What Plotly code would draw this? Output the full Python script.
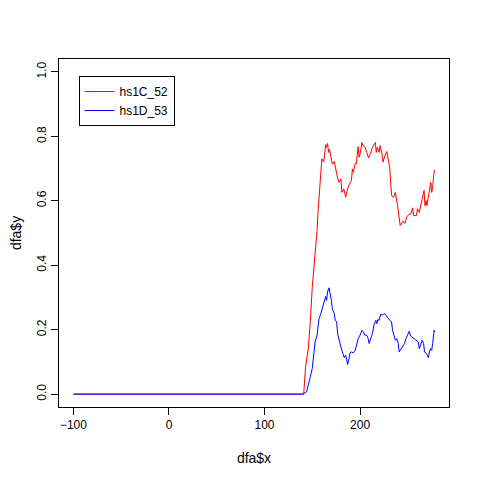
import plotly.graph_objects as go

red_name = "hs1C_52"
red_x = [-100, 141, 143, 146, 148, 150, 155, 156, 160, 162, 164, 165, 166, 167, 168, 169, 171, 173, 175, 176, 178, 180, 181, 183, 185, 187, 189, 191, 192, 193, 195, 196, 198, 199, 200, 202, 203, 205, 207, 209, 211, 213, 215, 216, 217, 218, 220, 221, 223, 224, 226, 228, 230, 231, 233, 235, 237, 238, 239, 240, 242, 244, 245, 247, 249, 251, 253, 255, 256, 259, 260, 262, 264, 266, 267, 268, 269, 270, 272, 274, 275, 276, 277, 278]
red_y = [0, 0, 0.085, 0.146, 0.229, 0.332, 0.508, 0.564, 0.73, 0.72, 0.774, 0.766, 0.778, 0.75, 0.76, 0.745, 0.714, 0.722, 0.688, 0.678, 0.657, 0.668, 0.626, 0.637, 0.611, 0.637, 0.652, 0.663, 0.699, 0.688, 0.716, 0.714, 0.768, 0.735, 0.745, 0.781, 0.771, 0.768, 0.75, 0.733, 0.747, 0.766, 0.776, 0.781, 0.75, 0.766, 0.75, 0.771, 0.745, 0.72, 0.74, 0.753, 0.72, 0.704, 0.616, 0.611, 0.626, 0.601, 0.585, 0.57, 0.523, 0.53, 0.537, 0.53, 0.551, 0.557, 0.559, 0.578, 0.554, 0.554, 0.575, 0.564, 0.595, 0.616, 0.632, 0.585, 0.601, 0.585, 0.616, 0.657, 0.626, 0.642, 0.678, 0.696]

blue_name = "hs1D_53"
blue_x = [-100, 140, 144, 146, 148, 150, 151, 153, 155, 156, 157, 159, 161, 163, 164, 165, 166, 167.5, 168.5, 170, 171, 173, 174, 175.5, 176.5, 178, 180, 182, 183.5, 185, 186, 187, 188.5, 189.5, 191, 193, 195, 196.5, 198, 200, 202, 203.5, 205, 207, 208.5, 209.5, 211.5, 213, 214.5, 216.5, 217.5, 218.5, 220, 221.5, 223.5, 225, 226.5, 228, 229.5, 231.5, 233, 234, 235.5, 237, 238.5, 240, 241, 243, 244.5, 246.5, 248, 249.5, 251.5, 253, 254.5, 256, 257.5, 259.5, 261, 262, 263.5, 265, 266.5, 267.5, 269, 270.5, 271.5, 272.5, 274, 275, 276, 277.5, 278.5]
blue_y = [0, 0, 0.007, 0.028, 0.054, 0.08, 0.116, 0.162, 0.183, 0.203, 0.234, 0.25, 0.27, 0.291, 0.303, 0.291, 0.317, 0.33, 0.317, 0.291, 0.265, 0.25, 0.229, 0.224, 0.188, 0.167, 0.146, 0.126, 0.113, 0.121, 0.11, 0.092, 0.11, 0.128, 0.131, 0.128, 0.136, 0.152, 0.172, 0.183, 0.198, 0.193, 0.183, 0.183, 0.172, 0.157, 0.172, 0.188, 0.214, 0.229, 0.219, 0.231, 0.229, 0.248, 0.245, 0.25, 0.248, 0.239, 0.234, 0.229, 0.224, 0.198, 0.183, 0.167, 0.172, 0.157, 0.131, 0.141, 0.146, 0.157, 0.172, 0.183, 0.195, 0.18, 0.177, 0.172, 0.169, 0.167, 0.162, 0.141, 0.157, 0.167, 0.157, 0.131, 0.126, 0.121, 0.113, 0.131, 0.141, 0.136, 0.157, 0.198, 0.193]

x_ticks = [-100, 0, 100, 200]
y_ticks = [0.0, 0.2, 0.4, 0.6, 0.8, 1.0]
y_tick_text = ["0.0", "0.2", "0.4", "0.6", "0.8", "1.0"]

fig = go.Figure()
fig.add_trace(go.Scatter(x=red_x, y=red_y, mode="lines", name=red_name,
                         line=dict(color="#FF0000", width=1)))
fig.add_trace(go.Scatter(x=blue_x, y=blue_y, mode="lines", name=blue_name,
                         line=dict(color="#0000FF", width=1)))

font = dict(family="Liberation Sans, Arial, sans-serif", size=12, color="black")
fig.update_layout(
    width=480, height=480,
    margin=dict(l=51, r=39, t=51, b=81, autoexpand=False),
    paper_bgcolor="white", plot_bgcolor="white",
    font=font,
    showlegend=True,
    legend=dict(x=0.05, y=0.951, xanchor="left", yanchor="top",
                bordercolor="black", borderwidth=1, bgcolor="white",
                font=font, tracegroupgap=0),
    xaxis=dict(range=[-115.1, 293.1], tickvals=x_ticks, ticks="outside", ticklen=7,
               tickcolor="black", showline=True, linecolor="black", mirror=True,
               automargin=False,
               showgrid=False, zeroline=False, title=dict(text="dfa$x", standoff=21)),
    yaxis=dict(range=[-0.04, 1.04], tickvals=y_ticks, ticktext=y_tick_text,
               tickangle=-90, ticks="outside", ticklen=7, automargin=False,
               tickcolor="black", showline=True, linecolor="black", mirror=True,
               showgrid=False, zeroline=False, title=dict(text="dfa$y", standoff=20)),
)
fig.write_html("out.html")
